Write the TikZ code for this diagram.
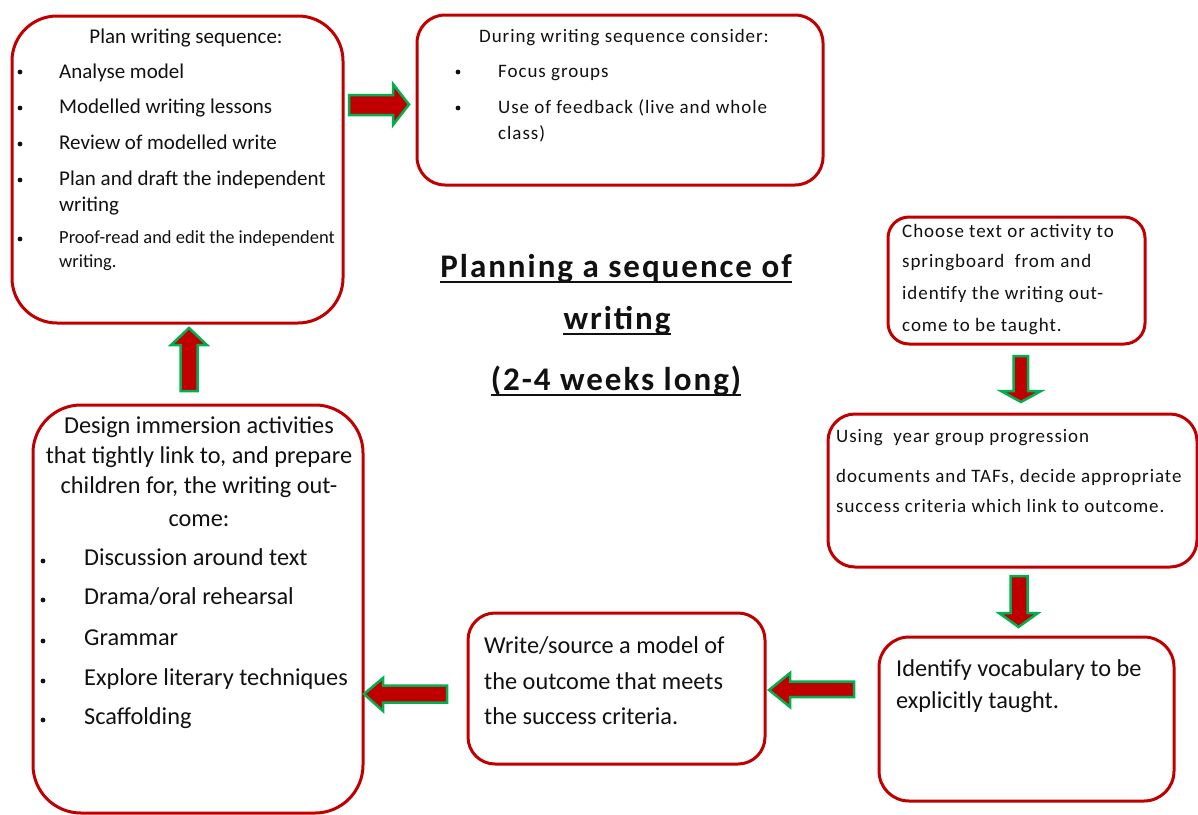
\documentclass[tikz,border=0pt]{standalone}
\usepackage{fontspec}
\setmainfont{Carlito}
\newfontfamily\fx{Carlito}[LetterSpace=5]
\newfontfamily\ftitle{Carlito}[LetterSpace=6]
\definecolor{boxred}{HTML}{C00000}
\definecolor{arrred}{HTML}{C00000}
\definecolor{arrgreen}{HTML}{00B050}
\definecolor{txt}{HTML}{111111}
\tikzset{
  box/.style={draw=boxred, line width=3pt, rounded corners=#1, inner sep=0pt, fill=white},
  tl/.style={anchor=base west, inner sep=0pt, text=txt},
  tm/.style={anchor=base, inner sep=0pt, text=txt},
  blockarrow/.style={fill=arrred, draw=arrgreen, line width=2.5pt, line join=miter},
  bul/.style={fill=txt},
  fOne/.style={font=\fontsize{21}{25}\selectfont},
  fOneS/.style={font=\fontsize{18.5}{22}\selectfont},
  fX/.style={font=\fx\fontsize{19}{23}\selectfont},
  fBig/.style={font=\fontsize{24.3}{29}\selectfont},
  fTitle/.style={font=\ftitle\bfseries\fontsize{33}{38}\selectfont},
  uline/.style={line width=2pt, draw=txt}
}
\begin{document}
\begin{tikzpicture}[x=1pt, y=-1pt]
\useasboundingbox (0,0) rectangle (1198,814);
\fill[white] (0,0) rectangle (1198,814);

% boxes
\node[box=45pt, minimum width=331pt, minimum height=307pt] (plan) at (177.5,169.5) {};
\node[box=28pt, minimum width=406pt, minimum height=170pt] (during) at (620,100) {};
\node[box=21pt, minimum width=257pt, minimum height=127pt] (choose) at (1016.5,280.5) {};
\node[box=27pt, minimum width=369pt, minimum height=153pt] (using) at (1012.5,490.5) {};
\node[box=30pt, minimum width=295pt, minimum height=164pt] (vocab) at (1026.5,719) {};
\node[box=27pt, minimum width=297pt, minimum height=151pt] (model) at (616.5,688.5) {};
\node[box=48pt, minimum width=330pt, minimum height=408pt] (design) at (198,609) {};

% block arrows
\draw[blockarrow] (349,95) -- (393,95) -- (393,84) -- (409,104.5) -- (393,125) -- (393,115) -- (349,115) -- cycle;
\draw[blockarrow] (180.5,391) -- (180.5,345) -- (171,345) -- (189,328) -- (207,345) -- (197.5,345) -- (197.5,391) -- cycle;
\draw[blockarrow] (1013.5,356) -- (1028,356) -- (1028,391) -- (1041,391) -- (1021,402) -- (1001,391) -- (1013.5,391) -- cycle;
\draw[blockarrow] (1010.5,576) -- (1027.5,576) -- (1027.5,613) -- (1038,613) -- (1018.5,627) -- (999,613) -- (1010.5,613) -- cycle;
\draw[blockarrow] (854,681.5) -- (790,681.5) -- (790,673) -- (769,690) -- (790,707) -- (790,697) -- (854,697) -- cycle;
\draw[blockarrow] (447,685.5) -- (383,685.5) -- (383,678) -- (364,694) -- (383,711) -- (383,702.5) -- (447,702.5) -- cycle;

% title
\node[tm, fTitle] (ti1) at (616,277) {Planning a sequence of};
\node[tm, fTitle] (ti2) at (617,329) {writing};
\node[tm, fTitle] (ti3) at (616,390) {(2-4 weeks long)};
\draw[uline] ([yshift=-4.5pt]ti1.base west) -- ([yshift=-4.5pt]ti1.base east);
\draw[uline] ([yshift=-4.5pt]ti2.base west) -- ([yshift=-4.5pt]ti2.base east);
\draw[uline] ([yshift=-4.5pt]ti3.base west) -- ([yshift=-4.5pt]ti3.base east);

% plan box text
\node[tm, fOne] (p0) at (186,43) {Plan writing sequence:};
\node[tl, fOne] (p1) at (59,78) {Analyse model};
\node[tl, fOne] (p2) at (59,113) {Modelled writing lessons};
\node[tl, fOne] (p3) at (59,149) {Review of modelled write};
\node[tl, fOne] (p4) at (59,185) {Plan and draft the independent};
\node[tl, fOne] (p4b) at (59,211) {writing};
\node[tl, fOneS] (p5) at (59,243) {Proof-read and edit the independent};
\node[tl, fOneS] (p5b) at (59,267) {writing.};
\foreach \yy in {72,108,144,180,239} \fill[bul] (20,\yy) circle (2.4pt);

% during box text
\node[tm, fX] (d0) at (624,42) {During writing sequence consider:};
\node[tl, fX] (d1) at (498,77) {Focus groups};
\node[tl, fX] (d2) at (498,113) {Use of feedback (live and whole};
\node[tl, fX] (d2b) at (498,139) {class)};
\foreach \yy in {72,108} \fill[bul] (458,\yy) circle (2.4pt);

% choose box text
\node[tl, fX] (c1) at (902,237) {Choose text or activity to};
\node[tl, fX] (c2) at (902,267) {springboard\ \ from and};
\node[tl, fX] (c3) at (902,299) {identify the writing out-};
\node[tl, fX] (c4) at (902,331) {come to be taught.};

% using box text
\node[tl, fX] (u1) at (836,442) {Using\ \ year group progression};
\node[tl, fX] (u2) at (836,482) {documents and TAFs, decide appropriate};
\node[tl, fX] (u3) at (836,512) {success criteria which link to outcome.};

% vocab box text
\node[tl, fBig] (v1) at (896,676) {Identify vocabulary to be};
\node[tl, fBig] (v2) at (896,708) {explicitly taught.};

% model box text
\node[tl, fBig] (m1) at (484,653) {Write/source a model of};
\node[tl, fBig] (m2) at (484,689) {the outcome that meets};
\node[tl, fBig] (m3) at (484,724) {the success criteria.};

% design box text
\node[tm, fBig] (g1) at (199,433) {Design immersion activities};
\node[tm, fBig] (g2) at (199,463) {that tightly link to, and prepare};
\node[tm, fBig] (g3) at (199,493) {children for, the writing out-};
\node[tm, fBig] (g4) at (199,526) {come:};
\node[tl, fBig] (g5) at (84,565) {Discussion around text};
\node[tl, fBig] (g6) at (84,604) {Drama/oral rehearsal};
\node[tl, fBig] (g7) at (84,645) {Grammar};
\node[tl, fBig] (g8) at (84,685) {Explore literary techniques};
\node[tl, fBig] (g9) at (84,724) {Scaffolding};
\foreach \yy in {561,600,641,681,720} \fill[bul] (43,\yy) circle (2.4pt);
\end{tikzpicture}
\end{document}
